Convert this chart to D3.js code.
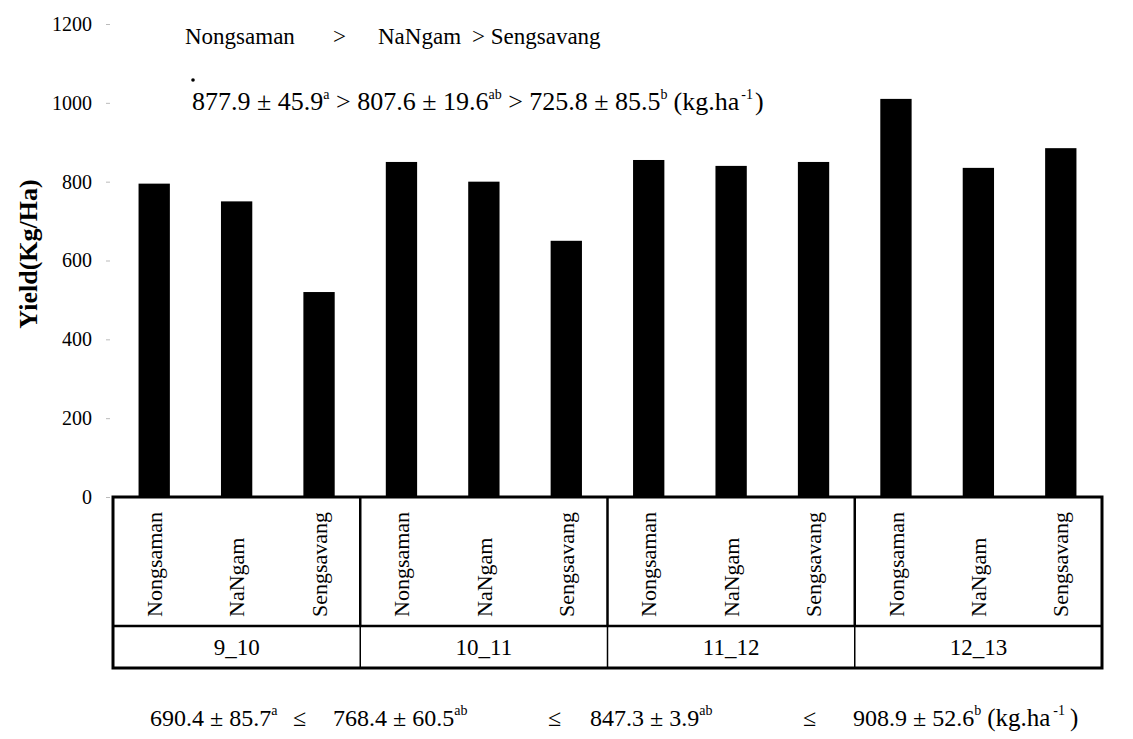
<!DOCTYPE html>
<html lang="en">
<head>
	<meta charset="utf-8">
	<title>yield</title>
	<style>
		body { margin: 0; background: #fff; }
		svg { display: block; }
		text { font-family: "Liberation Serif", "Times New Roman", serif; fill: #000; }
	</style>
</head>
<body>
	<script src="https://cdn.jsdelivr.net/npm/d3@7"></script>
	<script>

		const years = ["9_10", "10_11", "11_12", "12_13"];
		const varieties = ["Nongsaman", "NaNgam", "Sengsavang"];
		// yield per year, in variety order
		const yield910 = [795, 750, 520];
		const yield1011 = [850, 800, 650];
		const yield1112 = [855, 840, 850];
		const yield1213 = [1010, 835, 885];
		const yTicks = [0, 200, 400, 600, 800, 1000, 1200];

		// means +- sd with letter groups
		const varietyMean = [877.9, 807.6, 725.8];
		const varietySd = [45.9, 19.6, 85.5];
		const varietyGroup = ["a", "ab", "b"];
		const yearMean = [690.4, 768.4, 847.3, 908.9];
		const yearSd = [85.7, 60.5, 3.9, 52.6];
		const yearGroup = ["a", "ab", "ab", "b"];

		const allYields = [yield910, yield1011, yield1112, yield1213];
		const rows = [];
		years.forEach((yr, i) => {
			varieties.forEach((v, j) => {
				rows.push({ key: yr + "|" + v, year: yr, variety: v, value: allYields[i][j] });
			});
		});

		const W = 1133, H = 739;
		const plotLeft = 113, plotRight = 1102, base = 497, plotTop = 24;
		const nameBottom = 626, tableBottom = 668;

		const svg = d3.select(document.body).append("svg")
			.attr("width", W)
			.attr("height", H);

		const x = d3.scaleBand()
			.domain(rows.map(d => d.key))
			.range([plotLeft, plotRight])
			.paddingInner(0.62)
			.paddingOuter(0.31);

		const y = d3.scaleLinear()
			.domain([0, 1200])
			.range([base, plotTop]);

		// y axis, no line, faint ticks
		const yAxis = svg.append("g")
			.attr("transform", `translate(110,0)`)
			.call(d3.axisLeft(y).tickValues(yTicks).tickSize(4).tickPadding(14).tickFormat(d3.format("d")));
		yAxis.select(".domain").remove();
		yAxis.selectAll(".tick line").attr("stroke", "#bbb");
		yAxis.selectAll(".tick text")
			.attr("font-size", 20)
			.attr("font-family", "Liberation Serif");

		svg.append("text")
			.attr("transform", `translate(37,254) rotate(-90)`)
			.attr("text-anchor", "middle")
			.attr("font-size", 26)
			.attr("font-weight", "bold")
			.text("Yield(Kg/Ha)");

		// bars
		svg.append("g")
			.selectAll("rect")
			.data(rows)
			.join("rect")
			.attr("x", d => x(d.key))
			.attr("y", d => y(d.value))
			.attr("width", x.bandwidth())
			.attr("height", d => y(0) - y(d.value))
			.attr("fill", "#000");

		// table under the axis
		const step = x.step();
		const table = svg.append("g");

		table.selectAll("text.name")
			.data(rows)
			.join("text")
			.attr("class", "name")
			.attr("transform", d => `translate(${x(d.key) + x.bandwidth() / 2},617) rotate(-90)`)
			.attr("dy", "0.35em")
			.attr("font-size", 22)
			.text(d => d.variety);

		table.selectAll("text.year")
			.data(years)
			.join("text")
			.attr("class", "year")
			.attr("x", (d, i) => plotLeft + step * (i * 3 + 1.5))
			.attr("y", (nameBottom + tableBottom) / 2)
			.attr("dy", "0.35em")
			.attr("text-anchor", "middle")
			.attr("font-size", 23)
			.text(d => d);

		// group separators
		table.selectAll("line.sep")
			.data(years.slice(1))
			.join("line")
			.attr("class", "sep")
			.attr("x1", (d, i) => plotLeft + step * (i + 1) * 3)
			.attr("x2", (d, i) => plotLeft + step * (i + 1) * 3)
			.attr("y1", base)
			.attr("y2", nameBottom)
			.attr("stroke", "#000")
			.attr("stroke-width", 2.5);
		table.selectAll("line.sep2")
			.data(years.slice(1))
			.join("line")
			.attr("class", "sep2")
			.attr("x1", (d, i) => plotLeft + step * (i + 1) * 3)
			.attr("x2", (d, i) => plotLeft + step * (i + 1) * 3)
			.attr("y1", nameBottom)
			.attr("y2", tableBottom)
			.attr("stroke", "#000")
			.attr("stroke-width", 1.5);

		table.append("line")
			.attr("x1", plotLeft).attr("x2", plotRight)
			.attr("y1", nameBottom).attr("y2", nameBottom)
			.attr("stroke", "#000").attr("stroke-width", 2.5);

		table.append("rect")
			.attr("x", plotLeft).attr("y", base)
			.attr("width", plotRight - plotLeft).attr("height", tableBottom - base)
			.attr("fill", "none")
			.attr("stroke", "#000")
			.attr("stroke-width", 3);

		// annotations
		const fs = 24, sup = 14, rise = 11;

		function meanText(g, xPos, yPos, m, sd, grp, unit) {
			const t = g.append("text")
				.attr("x", xPos)
				.attr("y", yPos)
				.attr("font-size", fs);
			t.append("tspan").text(`${m.toFixed(1)} \u00b1 ${sd.toFixed(1)}`);
			t.append("tspan").attr("dy", -rise).attr("font-size", sup).text(grp);
			if (unit) {
				t.append("tspan").attr("dy", rise).attr("dx", 6).attr("font-size", 25).text("(kg.ha");
				t.append("tspan").attr("dy", -rise).attr("dx", 3).attr("font-size", sup).text("-1");
				t.append("tspan").attr("dy", rise).attr("dx", 5).attr("font-size", 25).text(")");
			}
			return t;
		}

		const ann = svg.append("g");

		const order = ["Nongsaman", ">", "NaNgam", "> Sengsavang"];
		const orderX = [185, 333, 378, 472];
		ann.selectAll("text.order")
			.data(order)
			.join("text")
			.attr("class", "order")
			.attr("x", (d, i) => orderX[i])
			.attr("y", 44)
			.attr("font-size", 23)
			.text(d => d);

		// variety means row
		const line2 = ann.append("text").attr("x", 192).attr("y", 110).attr("font-size", 26);
		varietyMean.forEach((m, i) => {
			line2.append("tspan").attr("dy", i === 0 ? 0 : rise)
				.text(`${i === 0 ? "" : " > "}${m.toFixed(1)} \u00b1 ${varietySd[i].toFixed(1)}`);
			line2.append("tspan").attr("dy", -rise).attr("font-size", sup).text(varietyGroup[i]);
		});
		line2.append("tspan").attr("dy", rise).attr("dx", 6).text("(kg.ha");
		line2.append("tspan").attr("dy", -rise).attr("dx", 2).attr("font-size", sup).text("-1");
		line2.append("tspan").attr("dy", rise).attr("dx", 2).text(")");
		ann.append("circle").attr("cx", 193).attr("cy", 80).attr("r", 1.8).attr("fill", "#000");

		// year means row
		const yearX = [150, 333, 590, 853];
		const leX = [293, 548, 803];
		yearMean.forEach((m, i) => {
			meanText(ann, yearX[i], 726, m, yearSd[i], yearGroup[i], i === yearMean.length - 1);
		});
		ann.selectAll("text.le")
			.data(leX)
			.join("text")
			.attr("class", "le")
			.attr("x", d => d)
			.attr("y", 726)
			.attr("font-size", fs)
			.text("\u2264");

	</script>
</body>
</html>
